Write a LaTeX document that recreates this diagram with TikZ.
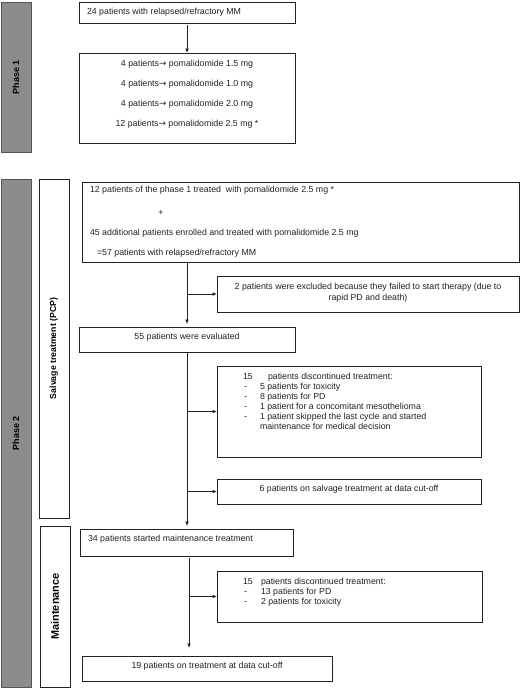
\documentclass[tikz,border=0pt]{standalone}
\usepackage{fontspec}
\setmainfont{Liberation Sans}
\newfontfamily\arrowfont{DejaVu Sans}
\usetikzlibrary{fit,arrows.meta}
\definecolor{barfill}{HTML}{8C8C8C}
\definecolor{barline}{HTML}{555555}
\definecolor{ink}{HTML}{222222}
\newcommand{\rarr}{{\arrowfont\char"2192}}
\begin{document}
\begin{tikzpicture}[x=1pt,y=-1pt,
  box/.style={draw=ink, line width=0.8pt, fill=white, inner sep=0pt, outer sep=0pt},
  bar/.style={draw=barline, line width=1pt, fill=barfill, inner sep=0pt, outer sep=0pt},
  lane/.style={draw=ink, line width=0.8pt, fill=white, inner sep=0pt, outer sep=0pt},
  txt/.style={inner sep=0pt, outer sep=0pt, text=ink, font=\fontsize{8.8}{10}\selectfont},
  lbl/.style={inner sep=0pt, text=black, rotate=90, font=\bfseries\fontsize{9}{10}\selectfont},
  conn/.style={draw=ink, line width=0.8pt},
  arr/.style={conn, -{Latex[length=4.5pt,width=3.8pt]}}]
\useasboundingbox (0,0) rectangle (520,689);
\fill[white] (0,0) rectangle (520,689);

% lanes
\node[bar, fit={(1,2) (31,152)}] (phase1) {};
\node[lbl] (phase1lbl) at (phase1.center) {Phase 1};
\node[bar, fit={(1,179) (31,687)}] (phase2) {};
\node[lbl] (phase2lbl) at (phase2.center) {Phase 2};
\node[lane, fit={(39,179) (69,518)}] (salv) {};
\node[lbl, font=\bfseries\fontsize{8.7}{10}\selectfont] (salvlbl) at (salv.center) {Salvage treatment (PCP)};
\node[lane, fit={(40,526) (70,687)}] (maint) {};
\node[lbl, font=\bfseries\fontsize{10.9}{12}\selectfont] (maintlbl) at (maint.center) {Maintenance};

% phase 1 boxes
\node[box, fit={(79,2) (295,23)}] (b1) {};
\node[txt, anchor=base west] (t1) at (87,14) {24 patients with relapsed/refractory MM};
\node[box, fit={(79,53) (295,143)}] (b2) {};
\node[txt, anchor=base] (t2a) at (187,66) {4 patients\rarr{} pomalidomide 1.5 mg};
\node[txt, anchor=base] (t2b) at (187,86) {4 patients\rarr{} pomalidomide 1.0 mg};
\node[txt, anchor=base] (t2c) at (187,106) {4 patients\rarr{} pomalidomide 2.0 mg};
\node[txt, anchor=base] (t2d) at (187,126) {12 patients\rarr{} pomalidomide 2.5 mg *};

% phase 2 salvage
\node[box, fit={(82,182) (519,262)}] (b3) {};
\node[txt, anchor=base west] (t3a) at (90,192) {12 patients of the phase 1 treated\ \ with pomalidomide 2.5 mg *};
\node[txt, anchor=base] (t3b) at (161,215) {+};
\node[txt, anchor=base west] (t3c) at (90,235) {45 additional patients enrolled and treated with pomalidomide 2.5 mg};
\node[txt, anchor=base west] (t3d) at (97,255) {=57 patients with relapsed/refractory MM};

\node[box, fit={(217,276) (519,312)}] (excl) {};
\node[txt, anchor=base] (te1) at (368,289) {2 patients were excluded because they failed to start therapy (due to};
\node[txt, anchor=base] (te2) at (368,300) {rapid PD and death)};

\node[box, fit={(79,327) (295,352)}] (b4) {};
\node[txt, anchor=base] (t4) at (187,339) {55 patients were evaluated};

\node[box, fit={(217,366) (481,457)}] (disc1) {};
\node[txt, anchor=base west] (d1n) at (243,379) {15};
\node[txt, anchor=base west] (d1h) at (268,379) {patients discontinued treatment:};
\node[txt, anchor=base west] (d1a0) at (244,389) {-};
\node[txt, anchor=base west] (d1a) at (260,389) {5 patients for toxicity};
\node[txt, anchor=base west] (d1b0) at (244,399) {-};
\node[txt, anchor=base west] (d1b) at (260,399) {8 patients for PD};
\node[txt, anchor=base west] (d1c0) at (244,409) {-};
\node[txt, anchor=base west] (d1c) at (260,409) {1 patient for a concomitant mesothelioma};
\node[txt, anchor=base west] (d1d0) at (244,419) {-};
\node[txt, anchor=base west] (d1d) at (260,419) {1 patient skipped the last cycle and started};
\node[txt, anchor=base west] (d1e) at (260,429) {maintenance for medical decision};

\node[box, fit={(217,479) (481,504)}] (b6) {};
\node[txt, anchor=base] (t6) at (349,491) {6 patients on salvage treatment at data cut-off};

% maintenance
\node[box, fit={(80,529) (293,556)}] (b5) {};
\node[txt, anchor=base west] (t5) at (88,541) {34 patients started maintenance treatment};

\node[box, fit={(217,571) (482,622)}] (disc2) {};
\node[txt, anchor=base west] (d2n) at (243,584) {15};
\node[txt, anchor=base west] (d2h) at (261,584) {patients discontinued treatment:};
\node[txt, anchor=base west] (d2a0) at (244,594) {-};
\node[txt, anchor=base west] (d2a) at (261,594) {13 patients for PD};
\node[txt, anchor=base west] (d2b0) at (244,604) {-};
\node[txt, anchor=base west] (d2b) at (261,604) {2 patients for toxicity};

\node[box, fit={(82,656) (332,681)}] (b7) {};
\node[txt, anchor=base] (t7) at (207,668) {19 patients on treatment at data cut-off};

% connectors
\draw[arr, shorten <=2pt] (b1.south -| b2.north) -- (b2.north);
\draw[arr, shorten >=3pt] (b3.south -| b4.north) -- (b4.north);
\draw[arr] (b4.north |- excl.west) -- (excl.west);
\draw[arr, shorten >=3pt] (b4.south) -- (b4.south |- b5.north);
\draw[arr] ([xshift=1pt]b4.south |- disc1.west) -- (disc1.west);
\draw[arr] ([xshift=1pt]b4.south |- b6.west) -- (b6.west);
\draw[arr, shorten <=2pt, shorten >=8pt] ([xshift=2.5pt]b5.south) -- ([xshift=2.5pt]b5.south |- b7.north);
\draw[arr] ([xshift=2.5pt]b5.south |- disc2.west) -- (disc2.west);
\end{tikzpicture}
\end{document}
